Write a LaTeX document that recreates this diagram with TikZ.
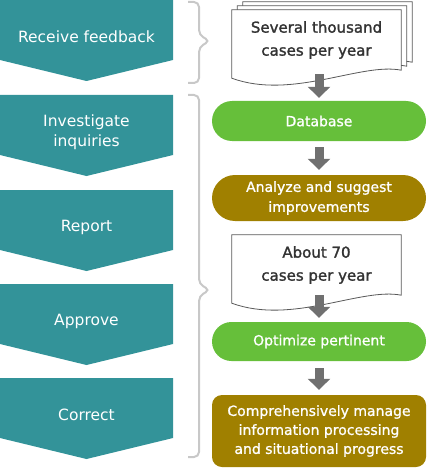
\documentclass[tikz,border=0pt]{standalone}
\usepackage{fontspec}
\setmainfont{DejaVu Sans}
\newfontfamily\medfont[FakeBold=1]{DejaVu Sans}
\newfontfamily\docfont[FakeBold=1.6]{DejaVu Sans}
\usepackage{tikz}
\usetikzlibrary{calc,arrows.meta}

\definecolor{stepteal}{RGB}{51,147,153}
\definecolor{dbgreen}{RGB}{102,191,58}
\definecolor{olive}{RGB}{160,128,0}
\definecolor{arrowgray}{RGB}{112,112,112}
\definecolor{bracegray}{RGB}{200,200,200}
\definecolor{doctext}{RGB}{51,51,51}

% one sheet of the document symbol, shifted by #2/#3
\newcommand\docpage[3]{%
  \filldraw[docline] ([xshift=#2,yshift=#3]#1.north west) -- ([xshift=#2,yshift=#3]#1.north east)
    -- ([xshift=#2,yshift=#3]#1.south east)
    .. controls +(-40,-8) and +(60,22) .. ([xshift=#2,yshift=#3-8pt]#1.south west) -- cycle;}

\begin{document}
\begin{tikzpicture}[x=1pt,y=-1pt,
  steptext/.style={text=white,align=center,font=\fontsize{15.5}{20}\selectfont},
  docbox/.style={minimum width=169pt,minimum height=60pt,inner sep=0pt,align=center,
    text=doctext,font=\docfont\fontsize{15}{23}\selectfont},
  docline/.style={fill=white,draw=black!65,line width=0.8pt},
  pill/.style={minimum width=214pt,inner sep=0pt,align=center,text=white,
    font=\medfont\fontsize{14}{20}\selectfont},
  garrow/.style={arrowgray,line width=9pt,-{Triangle[width=22pt,length=11pt]}},
  bracket/.style={bracegray,line width=2pt,rounded corners=5pt}]
  \useasboundingbox (0,0) rectangle (426,468);

  % the five steps down the left side
  \foreach \y/\name/\txt in {0/recv/Receive feedback,95/inv/{Investigate\\inquiries},
      190/rep/Report,284/appr/Approve,378/corr/Correct}{
    \fill[stepteal] (0,\y) -- ++(173,0) -- ++(0,60) -- ++(-86.5,21) -- ++(-86.5,-21) -- cycle;
    \node[steptext] (\name) at (86.5,\y+37) {\txt};
  }

  \draw[bracket] (188,2) -- (199,2) -- (199,35) -- (210,41) -- (199,47) -- (199,83) -- (188,83);
  \draw[bracket] (188,95) -- (199,95) -- (199,284) -- (210,290) -- (199,296) -- (199,457) -- (188,457);

  % right column
  \node[docbox] (doc1) at (316.5,40) {};
  \docpage{doc1}{11pt}{8pt}
  \docpage{doc1}{5.5pt}{4pt}
  \docpage{doc1}{0pt}{0pt}
  \node[docbox] at (doc1) {Several thousand\\cases per year};

  \node[pill,fill=dbgreen,minimum height=40pt,rounded corners=20pt] (db) at (319,121) {Database};
  \node[pill,fill=olive,minimum height=46pt,rounded corners=23pt] (analyze) at (319,198)
    {Analyze and suggest\\improvements};

  \node[docbox] (doc2) at (316.5,265) {};
  \docpage{doc2}{0pt}{0pt}
  \node[docbox] at (doc2) {About 70\\cases per year};

  \node[pill,fill=dbgreen,minimum height=39pt,rounded corners=19.5pt] (optimize) at (319,341.5)
    {Optimize pertinent};
  \node[pill,fill=olive,minimum height=72pt,rounded corners=10pt,
    font=\medfont\fontsize{14}{19}\selectfont] (manage) at (319,431)
    {Comprehensively manage\\information processing\\and situational progress};

  \draw[garrow] ([xshift=2.5pt,yshift=-4pt]doc1.south) -- ([yshift=3pt]db.north);
  \draw[garrow] ([yshift=-6pt]db.south) -- ([yshift=5pt]analyze.north);
  \draw[garrow] ([xshift=2.5pt,yshift=0pt]doc2.south) -- ([yshift=4pt]optimize.north);
  \draw[garrow] ([yshift=-7pt]optimize.south) -- ([yshift=5pt]manage.north);
\end{tikzpicture}
\end{document}
